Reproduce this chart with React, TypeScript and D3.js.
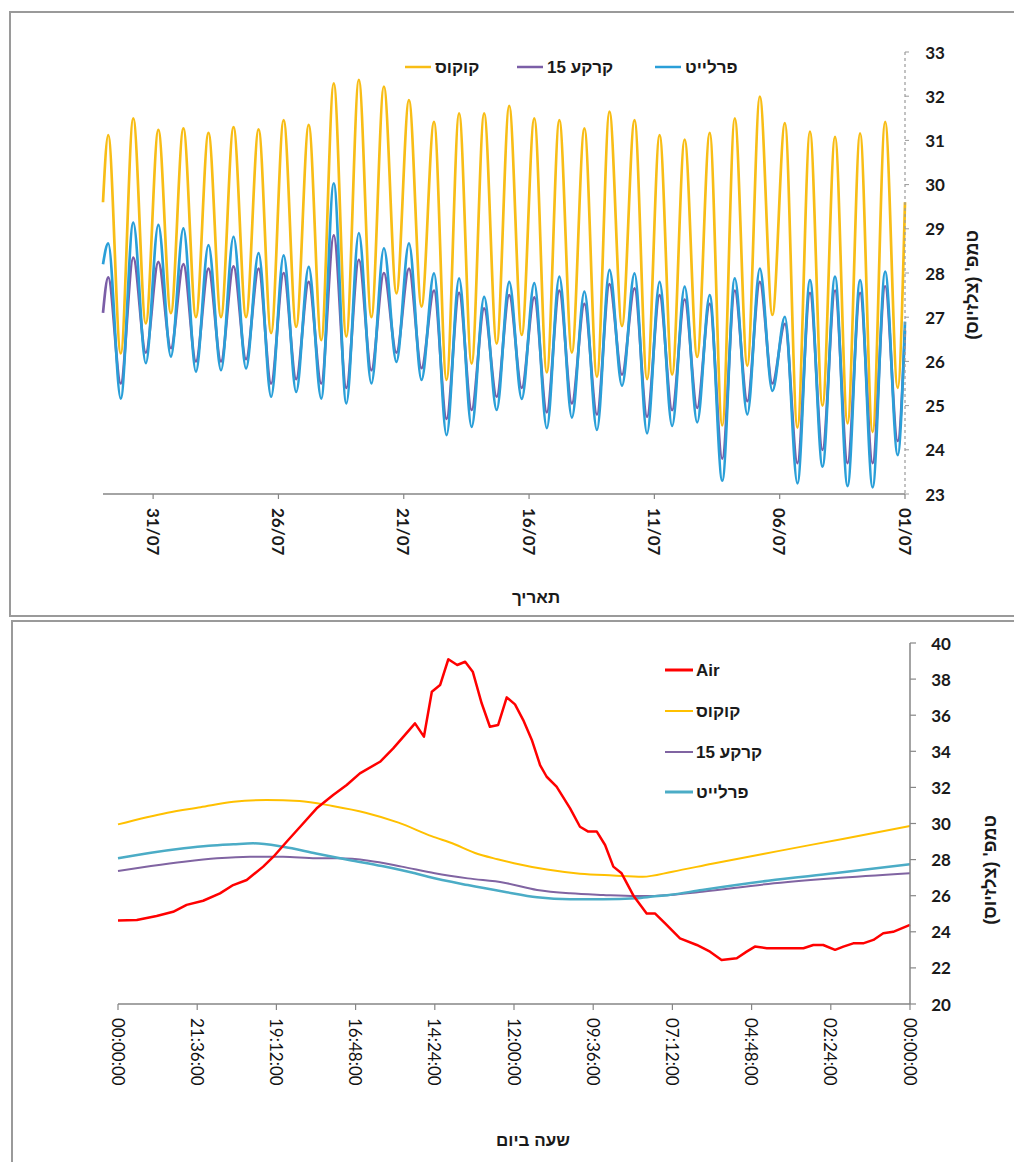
import React from 'react';
import * as d3 from 'd3';

// ---------- TOP CHART DATA (days since 01/07, daily readings) ----------
const TOP_TICK_DAYS = [0, 5, 10, 15, 20, 25, 30];
const TOP_TICK_LABELS = ['01/07', '06/07', '11/07', '16/07', '21/07', '26/07', '31/07'];
const TOP_Y_TICKS = [23, 24, 25, 26, 27, 28, 29, 30, 31, 32, 33];
const PEAK_HOUR = 19; // daily maximum around 19:00
const TROUGH_HOUR = 7; // daily minimum around 07:00

const cocoPeaks = [31.42, 31.16, 31.08, 31.2, 31.39, 31.99, 31.5, 31.17, 31.02, 31.12, 31.46, 31.65, 31.27, 31.46, 31.5, 31.78,
  31.61, 31.61, 31.42, 31.91, 32.22, 32.37, 32.29, 31.35, 31.46, 31.25, 31.3, 31.17, 31.27, 31.24, 31.5, 31.12];
const cocoTroughs = [25.4, 24.4, 24.6, 25.0, 24.5, 27.05, 25.9, 24.55, 26.1, 25.7, 25.6, 26.8, 25.65, 26.2, 25.75, 26.6,
  26.4, 25.95, 25.58, 27.24, 27.54, 27.0, 26.56, 26.48, 26.78, 26.64, 27.0, 27.0, 27.0, 27.09, 26.86, 26.18];
const cocoEdges = [29.6, 29.6];

const soilPeaks = [27.7, 27.55, 27.6, 27.55, 26.85, 27.8, 27.6, 27.3, 27.4, 27.5, 27.65, 27.75, 27.3, 27.6, 27.45, 27.5,
  27.2, 27.55, 27.6, 28.1, 28.0, 28.3, 28.85, 27.8, 28.0, 28.1, 28.15, 28.1, 28.2, 28.25, 28.35, 27.9];
const soilTroughs = [24.2, 23.7, 23.7, 24.0, 23.7, 25.5, 25.1, 23.8, 24.95, 24.9, 24.75, 25.7, 24.8, 25.05, 24.85, 25.4,
  25.2, 24.9, 24.7, 25.85, 26.2, 25.8, 25.4, 25.5, 25.6, 25.5, 26.05, 26.0, 26.0, 26.3, 26.2, 25.5];
const soilEdges = [26.7, 27.1];

const perlitePeaks = [28.03, 27.84, 27.92, 27.84, 27.01, 28.1, 27.88, 27.5, 27.69, 27.8, 27.99, 28.07, 27.58, 27.92, 27.77, 27.8,
  27.46, 27.88, 27.99, 28.67, 28.56, 28.9, 30.03, 28.14, 28.4, 28.45, 28.82, 28.63, 29.01, 29.09, 29.14, 28.67];
const perliteTroughs = [23.88, 23.15, 23.18, 23.62, 23.24, 25.33, 24.8, 23.3, 24.62, 24.54, 24.37, 25.45, 24.45, 24.73, 24.49, 25.15,
  24.9, 24.52, 24.33, 25.58, 25.99, 25.5, 25.05, 25.16, 25.31, 25.2, 25.84, 25.8, 25.77, 26.11, 25.96, 25.16];
const perliteEdges = [26.9, 28.2];

// ---------- BOTTOM CHART DATA (hours of day) ----------
const BOTTOM_TICK_HOURS = [0, 2.4, 4.8, 7.2, 9.6, 12, 14.4, 16.8, 19.2, 21.6, 24];
const BOTTOM_TICK_LABELS = ['00:00:00', '02:24:00', '04:48:00', '07:12:00', '09:36:00', '12:00:00', '14:24:00', '16:48:00', '19:12:00', '21:36:00', '00:00:00'];
const BOTTOM_Y_TICKS = [20, 22, 24, 26, 28, 30, 32, 34, 36, 38, 40];

const airHours = [0, 0.51, 0.81, 1.11, 1.42, 1.72, 2.02, 2.27, 2.63, 2.93, 3.23, 3.74, 4.34, 4.7, 4.95, 5.25, 5.71, 6.06, 6.46, 6.97,
  7.42, 7.73, 7.98, 8.38, 8.74, 8.99, 9.24, 9.49, 9.75, 10.0, 10.3, 10.71, 11.01, 11.21, 11.46, 11.72, 11.97, 12.22, 12.48, 12.73,
  12.98, 13.25, 13.48, 13.72, 13.99, 14.24, 14.49, 14.73, 15.0, 15.66, 16.06, 16.67, 17.07, 17.48, 17.98, 18.48, 18.89, 19.29, 19.6,
  20.1, 20.51, 20.91, 21.42, 21.92, 22.33, 22.83, 23.43, 24];
const airTemps = [24.38, 24.0, 23.92, 23.55, 23.36, 23.36, 23.18, 23.0, 23.27, 23.27, 23.09, 23.09, 23.09, 23.18, 22.9, 22.53, 22.44, 22.9, 23.27, 23.64,
  24.47, 25.02, 25.02, 26.0, 27.24, 27.61, 28.81, 29.55, 29.55, 29.82, 30.84, 32.04, 32.59, 33.24, 34.63, 35.73, 36.6, 36.99, 35.46, 35.36,
  36.66, 38.41, 38.96, 38.78, 39.1, 37.67, 37.3, 34.81, 35.55, 34.16, 33.42, 32.78, 32.13, 31.58, 30.84, 29.82, 28.99, 28.16, 27.61,
  26.87, 26.59, 26.13, 25.72, 25.49, 25.11, 24.88, 24.65, 24.62];

const cocoHours = [0, 2, 4, 6, 7.2, 8.1, 9, 10, 11, 12, 12.5, 13.2, 13.8, 14.5, 15.5, 16.5, 17.5, 18.5, 19.5, 20.5, 21.5, 22.5, 24];
const cocoTemps = [29.86, 29.16, 28.47, 27.77, 27.33, 27.05, 27.12, 27.22, 27.45, 27.8, 28.02, 28.38, 28.85, 29.3, 30.05, 30.6, 30.97, 31.25, 31.3, 31.2, 30.9, 30.6, 29.95];

const soilHours = [0, 2.3, 4.3, 6.3, 7.3, 7.8, 8.3, 9.3, 10.3, 11.3, 12.3, 13.4, 14.4, 15.4, 16.4, 17.3, 18.0, 19.0, 20.0, 21.0, 22.0, 23.0, 24];
const soilTemps = [27.24, 26.96, 26.65, 26.22, 26.04, 25.98, 25.98, 26.04, 26.13, 26.32, 26.72, 26.96, 27.24, 27.61, 27.94, 28.07, 28.07, 28.16, 28.16, 28.07, 27.88, 27.64, 27.37];

const perliteHours = [0, 2.3, 4.3, 6.3, 7.3, 7.8, 8.3, 9.3, 10.3, 11.3, 12.3, 13.4, 14.6, 15.0, 16.0, 17.0, 18.0, 19.0, 19.9, 20.5, 21.25, 22.0, 23.0, 24];
const perliteTemps = [27.74, 27.24, 26.83, 26.32, 26.04, 25.95, 25.86, 25.8, 25.8, 25.91, 26.22, 26.59, 27.05, 27.24, 27.64, 27.98, 28.34, 28.71, 28.9, 28.85, 28.77, 28.63, 28.38, 28.07];

const LEGEND_TOP = ['קוקוס', 'קרקע 15', 'פרלייט'];
const LEGEND_BOTTOM = ['Air', 'קוקוס', 'קרקע 15', 'פרלייט'];
const X_TITLE_TOP = 'תאריך';
const X_TITLE_BOTTOM = 'שעה ביום';
const Y_TITLE = "טמפ' (צלזיוס)";

// ---------- helpers ----------
function dailySeries(peaks: number[], troughs: number[], edges: number[]) {
  const pts: [number, number][] = [[0, edges[0]]];
  peaks.forEach((p, d) => {
    pts.push([d + TROUGH_HOUR / 24, troughs[d]]);
    pts.push([d + PEAK_HOUR / 24, p]);
  });
  pts.push([peaks.length, edges[1]]);
  return pts;
}

const HEB = "'Liberation Sans', 'DejaVu Sans', Arial, sans-serif";
const NUM = "Lato, 'Liberation Sans', sans-serif";

export default function App() {
  // top chart scales
  const tx = d3.scaleLinear().domain([0, 32]).range([905, 103]);
  const ty = d3.scaleLinear().domain([23, 33]).range([494, 52]);
  // bottom chart scales
  const bx = d3.scaleLinear().domain([0, 24]).range([910, 118]);
  const by = d3.scaleLinear().domain([20, 40]).range([1004, 643]);

  const smoothPath = (pts: [number, number][], xs: any, ys: any) => {
    const px = pts.map(([a, b]) => [xs(a), ys(b)] as [number, number]).sort((p, q) => p[0] - q[0]);
    return d3.line().curve(d3.curveMonotoneX)(px) || '';
  };
  const linearPath = (pts: [number, number][], xs: any, ys: any) => {
    const px = pts.map(([a, b]) => [xs(a), ys(b)] as [number, number]);
    return d3.line()(px) || '';
  };

  const topSeries = [
    { name: LEGEND_TOP[0], color: '#F8BD16', pts: dailySeries(cocoPeaks, cocoTroughs, cocoEdges) },
    { name: LEGEND_TOP[1], color: '#7B5EA7', pts: dailySeries(soilPeaks, soilTroughs, soilEdges) },
    { name: LEGEND_TOP[2], color: '#2A9FD8', pts: dailySeries(perlitePeaks, perliteTroughs, perliteEdges) },
  ];
  const topLegendPos = [
    { lx1: 405, lx2: 431, tx: 435 },
    { lx1: 517, lx2: 543, tx: 547 },
    { lx1: 655, lx2: 681, tx: 685 },
  ];

  const zip = (h: number[], v: number[]) => h.map((x, i) => [x, v[i]] as [number, number]);
  const bottomSeries = [
    { name: LEGEND_BOTTOM[0], color: '#FF0000', w: 2.5, path: linearPath(zip(airHours, airTemps), bx, by) },
    { name: LEGEND_BOTTOM[1], color: '#FFC000', w: 2, path: smoothPath(zip(cocoHours, cocoTemps), bx, by) },
    { name: LEGEND_BOTTOM[2], color: '#8064A2', w: 2, path: smoothPath(zip(soilHours, soilTemps), bx, by) },
    { name: LEGEND_BOTTOM[3], color: '#4BACC6', w: 2.5, path: smoothPath(zip(perliteHours, perliteTemps), bx, by) },
  ];
  const bottomDrawOrder = [1, 2, 3, 0];
  const bottomLegendY = [670, 711, 752, 792];

  return (
    <svg width={1014} height={1162} style={{ position: 'absolute', left: 0, top: 0, background: '#fff' }}>
      <rect x={0} y={0} width={1014} height={1162} fill="#fff" />
      {/* frames */}
      <rect x={10} y={12} width={1020} height={604} fill="none" stroke="#9a9a9a" strokeWidth={2} />
      <rect x={12} y={621} width={1020} height={560} fill="none" stroke="#9a9a9a" strokeWidth={2} />

      {/* ===== TOP CHART ===== */}
      {topSeries.map((s) => (
        <path key={s.name} d={smoothPath(s.pts, tx, ty)} fill="none" stroke={s.color} strokeWidth={2.7} strokeLinejoin="round" />
      ))}
      {/* x axis */}
      <line x1={tx(32)} x2={tx(0)} y1={ty(23)} y2={ty(23)} stroke="#868686" strokeWidth={1.5} />
      {TOP_TICK_DAYS.map((d, i) => (
        <g key={d}>
          <line x1={tx(d)} x2={tx(d)} y1={ty(23)} y2={ty(23) + 5} stroke="#868686" strokeWidth={1.2} />
          <text transform={`translate(${tx(d)},${ty(23) + 14}) rotate(90)`} dominantBaseline="central"
            fontFamily={NUM} fontWeight="bold" fontSize={17} fill="#1a1a1a">{TOP_TICK_LABELS[i]}</text>
        </g>
      ))}
      {/* y axis (dashed) */}
      <line x1={tx(0)} x2={tx(0)} y1={ty(33)} y2={ty(23)} stroke="#9a9a9a" strokeWidth={1.2} strokeDasharray="3,3" />
      {TOP_Y_TICKS.map((v) => (
        <g key={v}>
          <line x1={tx(0)} x2={tx(0) + 4} y1={ty(v)} y2={ty(v)} stroke="#9a9a9a" strokeWidth={1} />
          <text x={935} y={ty(v)} textAnchor="middle" dominantBaseline="central" fontFamily={NUM} fontWeight="bold" fontSize={17} fill="#1a1a1a">{v}</text>
        </g>
      ))}
      <text x={536} y={597} textAnchor="middle" dominantBaseline="central" fontFamily={HEB} fontWeight="bold" fontSize={17} fill="#1a1a1a">{X_TITLE_TOP}</text>
      <text transform="translate(972,285) rotate(-90)" textAnchor="middle" dominantBaseline="central" direction="rtl"
        fontFamily={HEB} fontWeight="bold" fontSize={18} fill="#1a1a1a">{Y_TITLE}</text>
      {/* legend */}
      {topSeries.map((s, i) => (
        <g key={s.name}>
          <line x1={topLegendPos[i].lx1} x2={topLegendPos[i].lx2} y1={67} y2={67} stroke={s.color} strokeWidth={2.5} />
          <text x={topLegendPos[i].tx} y={67} dominantBaseline="central" fontFamily={HEB} fontWeight="bold" fontSize={17} fill="#1a1a1a">{s.name}</text>
        </g>
      ))}

      {/* ===== BOTTOM CHART ===== */}
      {bottomDrawOrder.map((i) => (
        <path key={bottomSeries[i].name} d={bottomSeries[i].path} fill="none" stroke={bottomSeries[i].color} strokeWidth={bottomSeries[i].w} strokeLinejoin="round" />
      ))}
      <line x1={bx(24)} x2={bx(0)} y1={by(20)} y2={by(20)} stroke="#868686" strokeWidth={1.5} />
      {BOTTOM_TICK_HOURS.map((h, i) => (
        <g key={i}>
          <line x1={bx(h)} x2={bx(h)} y1={by(20)} y2={by(20) + 6} stroke="#868686" strokeWidth={1.2} />
          <text transform={`translate(${bx(h)},${by(20) + 14}) rotate(90)`} dominantBaseline="central"
            fontFamily={NUM} fontSize={17} fill="#111">{BOTTOM_TICK_LABELS[i]}</text>
        </g>
      ))}
      <line x1={bx(0)} x2={bx(0)} y1={by(40)} y2={by(20)} stroke="#868686" strokeWidth={1.5} />
      {BOTTOM_Y_TICKS.map((v) => (
        <g key={v}>
          <line x1={bx(0)} x2={bx(0) + 6} y1={by(v)} y2={by(v)} stroke="#868686" strokeWidth={1.2} />
          <text x={941} y={by(v)} textAnchor="middle" dominantBaseline="central" fontFamily={NUM} fontWeight="bold" fontSize={17} fill="#1a1a1a">{v}</text>
        </g>
      ))}
      <text x={533} y={1140} textAnchor="middle" dominantBaseline="central" fontFamily={HEB} fontWeight="bold" fontSize={17} fill="#1a1a1a">{X_TITLE_BOTTOM}</text>
      <text transform="translate(990,870) rotate(-90)" textAnchor="middle" dominantBaseline="central" direction="rtl"
        fontFamily={HEB} fontWeight="bold" fontSize={18} fill="#1a1a1a">{Y_TITLE}</text>
      {bottomSeries.map((s, i) => (
        <g key={s.name}>
          <line x1={665} x2={693} y1={bottomLegendY[i]} y2={bottomLegendY[i]} stroke={s.color} strokeWidth={i === 0 || i === 3 ? 3 : 2} />
          <text x={696} y={bottomLegendY[i]} dominantBaseline="central" fontFamily={HEB} fontWeight="bold" fontSize={17} fill="#1a1a1a">{s.name}</text>
        </g>
      ))}
    </svg>
  );
}
